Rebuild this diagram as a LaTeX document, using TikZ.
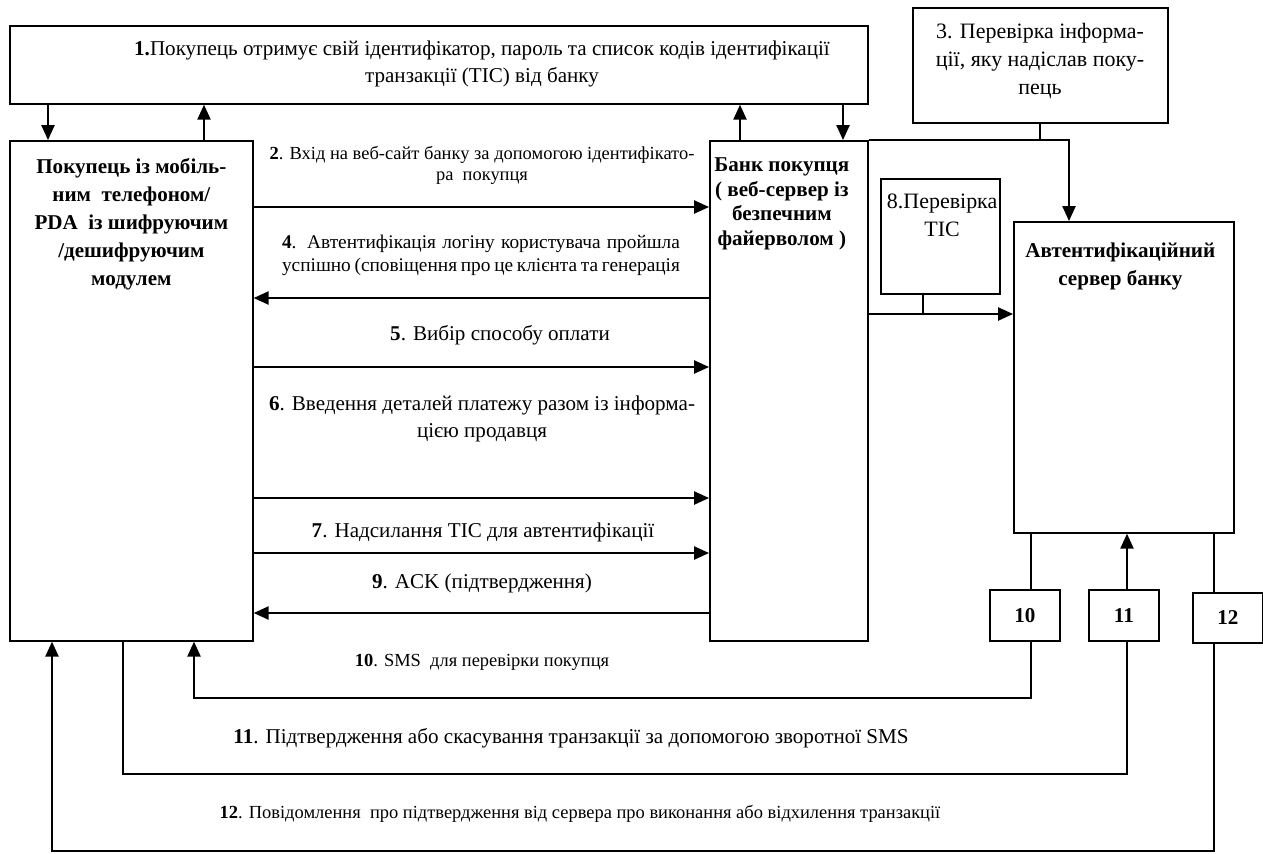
\documentclass[tikz,border=0pt]{standalone}
\usepackage{fontspec}
\setmainfont{Liberation Serif}
\usetikzlibrary{arrows.meta,positioning}
\tikzset{
	box/.style={draw, line width=1pt, inner sep=0pt, anchor=north west},
	txt/.style={inner sep=0pt, align=center},
	line/.style={line width=1pt},
	arr/.style={line width=1pt, -{Triangle[length=8.5pt,width=7.5pt]}},
	fa/.style={font=\fontsize{10.5}{12}\selectfont},
	fb/.style={font=\fontsize{11}{13}\selectfont},
	fc/.style={font=\fontsize{12}{15}\selectfont},
	fd/.style={font=\fontsize{12.5}{16}\selectfont},
	fbold/.style={font=\fontsize{12}{16}\selectfont\bfseries}
}

\begin{document}
\begin{tikzpicture}[x=0.02cm, y=-0.02cm]
		%%%%% START %%%%%
		\useasboundingbox (0,0) rectangle (1263,853);
		
		\node[box, minimum width=17.16cm, minimum height=1.56cm] (top) at (9,25) {};
		\node[box, minimum width=4.86cm, minimum height=10cm] (buyer) at (9,140) {};
		\node[box, minimum width=3.16cm, minimum height=10cm] (bank) at (709,140) {};
		\node[box, minimum width=5.1cm, minimum height=2.3cm] (chk) at (912,7) {};
		\node[box, minimum width=2.38cm, minimum height=2.3cm] (tic) at (880,178) {};
		\node[box, minimum width=4.4cm, minimum height=6.22cm] (auth) at (1013,221) {};
		\node[box, minimum width=1.4cm, minimum height=1.02cm, fbold] (b10) at (989,589) {10};
		\node[box, minimum width=1.4cm, minimum height=1.02cm, fbold] (b11) at (1088,589) {11};
		\node[box, minimum width=1.4cm, minimum height=1.0cm, fbold] (b12) at (1192,592) {12};
		
		\node[txt, fc] (toptxt) at (482,64) {\textbf{1.}Покупець отримує свій ідентифікатор, пароль та список кодів ідентифікації\\транзакції (TIC) від банку};
		\node[txt, fbold, below=10pt of buyer.north] (buyertxt) {Покупець із мобіль-\\ним\ \ телефоном/\\PDA\ \ із шифруючим\\/дешифруючим\\модулем};
		\node[txt, fbold, font=\fontsize{12}{14}\selectfont\bfseries, below=10pt of bank.north, xshift=-4pt] (banktxt) {Банк покупця\\( веб-сервер із\\безпечним\\файерволом )};
		\node[txt, fd] (chktxt) at (1040,61) {3. Перевірка інформа-\\ції, яку надіслав поку-\\пець};
		\node[txt, fd, below=9pt of tic.north, xshift=1pt] (tictxt) {8.Перевірка\\TIC};
		\node[txt, fbold, below=12pt of auth.north, xshift=-2pt] (authtxt) {Автентифікаційний\\сервер банку};
		
		% columns and rows of the connectors
		\foreach \n/\x in {t1/48, t2/204, t3/740, t4/843, k12/52, k11/123, k10/194, kt/923, kc/1069, kb10/1031, kb11/1127, kb12/1214}
			\coordinate (\n) at (\x,0);
		\foreach \n/\y in {2/207, 4/298, 5/367, 6/498, 7/553, 8/314, 9/613, 10/698, 11/774, 12/851}
			\coordinate (r\n) at (0,\y);
		
		\draw[arr] (top.south -| t1) -- (buyer.north -| t1);
		\draw[arr] (buyer.north -| t2) -- (top.south -| t2);
		\draw[arr] (bank.north -| t3) -- (top.south -| t3);
		\draw[arr] (top.south -| t4) -- (bank.north -| t4);
		
		\foreach \n in {2,5,6,7}
			\draw[arr] (buyer.east |- r\n) -- (bank.west |- r\n);
		\foreach \n in {4,9}
			\draw[arr] (bank.west |- r\n) -- (buyer.east |- r\n);
		
		\node[txt, fa] (l2) at (482,165) {\textbf{2}. Вхід на веб-сайт банку за допомогою ідентифікато-\\ра\ \ покупця};
		\node[txt, fb, text width=7.96cm, align=justify] (l4) at (481,255) {\textbf{4}. Автентифікація логіну користувача пройшла\linebreak успішно (сповіщення про це клієнта та генерація};
		\node[txt, fc] (l5) at (500,335) {\textbf{5}. Вибір способу оплати};
		\node[txt, fc] (l6) at (482,419) {\textbf{6}. Введення деталей платежу разом із інформа-\\цією продавця};
		\node[txt, fc] (l7) at (483,532) {\textbf{7}. Надсилання TIC для автентифікації};
		\node[txt, fc] (l9) at (482,583) {\textbf{9}. ACK (підтвердження)};
		
		% bank side
		\draw[line] (chk.south) -- (chk.south |- bank.north);
		\draw[arr] (bank.north east) -- (bank.north east -| kc) -- (auth.north -| kc);
		\draw[line] (tic.south -| kt) -- (kt |- r8);
		\draw[arr] (bank.east |- r8) -- (auth.west |- r8);
		
		\draw[line] (auth.south -| kb10) -- (b10.north -| kb10);
		\draw[arr] (b11.north -| kb11) -- (auth.south -| kb11);
		\draw[line] (auth.south -| kb12) -- (b12.north -| kb12);
		
		% SMS loops
		\draw[arr] (b10.south -| kb10) -- (kb10 |- r10) -- (k10 |- r10) -- (buyer.south -| k10);
		\draw[line] (buyer.south -| k11) -- (k11 |- r11) -- (kb11 |- r11) -- (b11.south -| kb11);
		\draw[arr] (b12.south -| kb12) -- (kb12 |- r12) -- (k12 |- r12) -- (buyer.south -| k12);
		
		\node[txt, fa] (l10) at (482,662) {\textbf{10}. SMS\ \ для перевірки покупця};
		\node[txt, fc] (l11) at (571,738) {\textbf{11}. Підтвердження або скасування транзакції за допомогою зворотної SMS};
		\node[txt, fa] (l12) at (580,814) {\textbf{12}. Повідомлення\ \ про підтвердження від сервера про виконання або відхилення транзакції};
		%%%%% END %%%%%
\end{tikzpicture}
\end{document}
